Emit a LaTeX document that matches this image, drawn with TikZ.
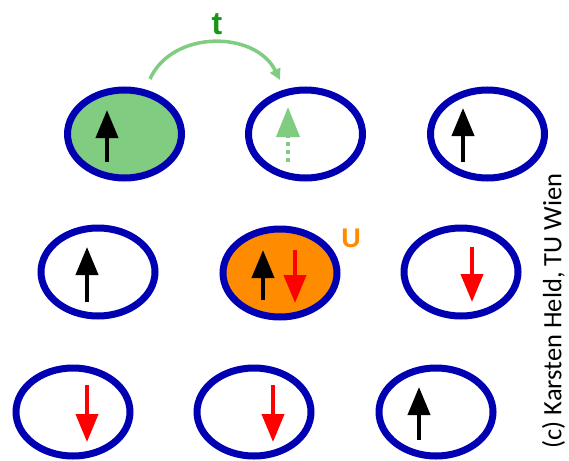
\documentclass[tikz,border=0pt]{standalone}
\usepackage{fontspec}
\setmainfont{Carlito}
\newfontfamily\labelfont{Liberation Sans}
\usetikzlibrary{shapes.geometric,arrows.meta}
\definecolor{siteblue}{RGB}{0,0,178}
\definecolor{hopgreen}{RGB}{128,204,128}
\definecolor{tgreen}{RGB}{24,150,24}
\definecolor{uorange}{RGB}{255,140,0}
\begin{document}
\begin{tikzpicture}[x=1pt,y=-1pt,
  site/.style={ellipse, draw=siteblue, line width=7pt, minimum width=114pt,
    minimum height=88pt, inner sep=0pt},
  spin/.style={line width=4pt, -{Triangle[length=28pt,width=22pt]}},
  spinup/.style={spin, black},
  spindown/.style={spin, red},
  hop/.style={hopgreen, line width=3.5pt, -{Triangle[length=11pt,width=11pt]}}]
\useasboundingbox (0,0) rectangle (569,460);

% lattice sites, three rows of three
\node[site, fill=hopgreen] (e1) at (124.5,134) {};
\node[site] (e2) at (305.5,134) {};
\node[site] (e3) at (487.5,134) {};
\node[site] (e4) at (98,272) {};
\node[site, fill=uorange] (e5) at (280,273) {};
\node[site] (e6) at (461,272) {};
\node[site] (e7) at (73,412) {};
\node[site] (e8) at (254,412) {};
\node[site] (e9) at (436,412) {};

% spins on the sites
\draw[spinup] ([shift={(-17.5,28)}]e1.center) -- ([shift={(-17.5,-24)}]e1.center);
\draw[spinup] ([shift={(-24.5,28)}]e3.center) -- ([shift={(-24.5,-26)}]e3.center);
\draw[spinup] ([shift={(-11,30)}]e4.center) -- ([shift={(-11,-25)}]e4.center);
\draw[spinup] ([shift={(-17,27)}]e5.center) -- ([shift={(-17,-23)}]e5.center);
\draw[spindown] ([shift={(15,-23)}]e5.center) -- ([shift={(15,30)}]e5.center);
\draw[spindown] ([shift={(11,-25)}]e6.center) -- ([shift={(11,30)}]e6.center);
\draw[spindown] ([shift={(14,-27)}]e7.center) -- ([shift={(14,30)}]e7.center);
\draw[spindown] ([shift={(19,-27)}]e8.center) -- ([shift={(19,30)}]e8.center);
\draw[spinup] ([shift={(-17,28)}]e9.center) -- ([shift={(-17,-25)}]e9.center);

% empty target state: dotted tail with a solid head
\draw[hopgreen, line width=4pt, dash pattern=on 4pt off 4pt]
  ([shift={(-17.5,28)}]e2.center) -- ([shift={(-17.5,3)}]e2.center);
\draw[hopgreen, line width=4pt, -{Triangle[length=30pt,width=23pt]}]
  ([shift={(-17.5,4)}]e2.center) -- ([shift={(-17.5,-27)}]e2.center);

% hopping t
\coordinate (hs) at (150,79);
\coordinate (he) at (280,80);
\draw[hop] (hs) .. controls (172,30) and (255,30) .. (he);
\node[text=tgreen, font=\labelfont\bfseries\fontsize{32}{32}\selectfont] (t) at (217,24) {t};

% on-site interaction U
\node[text=uorange, font=\labelfont\bfseries\fontsize{27}{27}\selectfont] (u) at (351,238) {U};

% credit
\node[rotate=90, font=\fontsize{26.5}{26.5}\selectfont] (credit) at (553.5,311) {(c) Karsten Held, TU Wien};
\end{tikzpicture}
\end{document}
